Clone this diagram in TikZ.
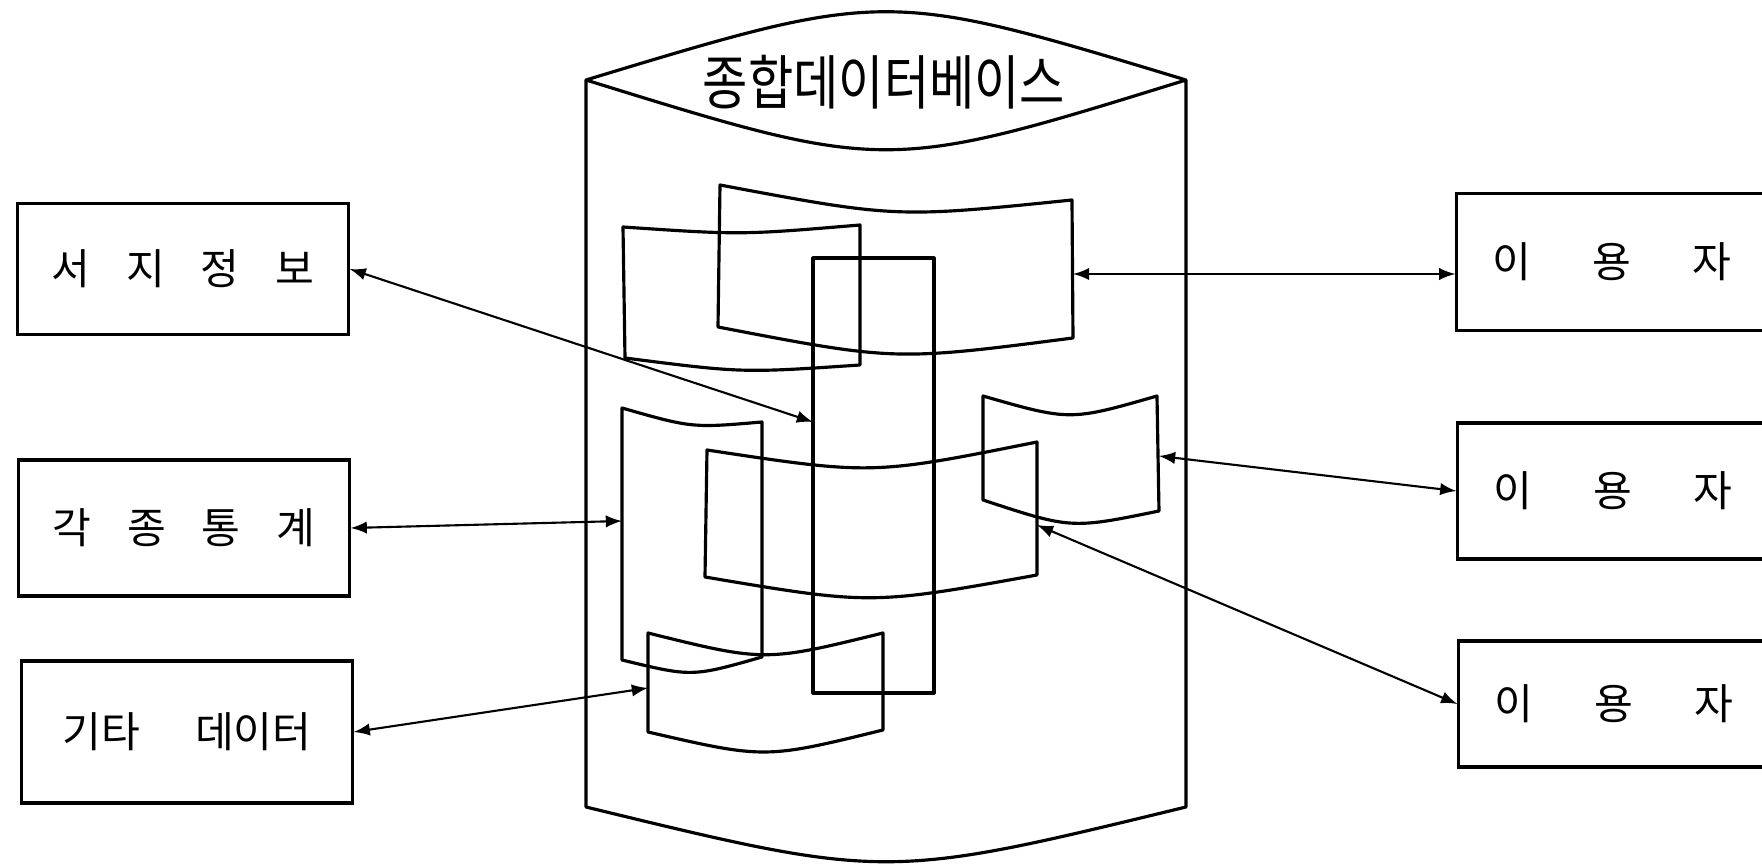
\documentclass[tikz,border=0pt]{standalone}
\usepackage{fontspec}
\newfontfamily\kor{Noto Sans CJK KR}
\usetikzlibrary{arrows}

\newcommand\boxfont{\kor\fontsize{12}{14}\selectfont}

\begin{document}
\begin{tikzpicture}[x=0.01cm, y=-0.01cm,
    box/.style={draw, line width=0.9pt, inner sep=0pt, minimum width=3.3cm,
                minimum height=1.35cm, font={\boxfont\spaceskip=#1\relax}},
    box/.default=0.85em,
    ubox/.style={box=1.45em, minimum width=3.1cm},
    panel/.style={line width=0.9pt, line join=round},
    link/.style={<->, >=latex, line width=0.6pt}
]
    \useasboundingbox (0,0) rectangle (1762,864);

    % database cylinder
    \draw[panel] (586,80) .. controls (886,-11) .. (1186,80)
        .. controls (886,173) .. (586,80) -- (586,807)
        .. controls (886,880) .. (1186,807) -- (1186,80);
    \node[font=\kor\fontsize{14}{16}\selectfont] (db) at (884,82) {\scalebox{1}[1.2]{종합데이터베이스}};

    % curved panels inside
    \draw[panel] (720,185) .. controls (896,218) .. (1072,200) -- (1073,338)
        .. controls (895,361) .. (718,327) -- cycle;
    \draw[panel] (623,227) .. controls (741,235) .. (860,225) -- (860,365)
        .. controls (742,373) .. (625,358) -- cycle;
    \draw[panel] (813,258) rectangle (934,693);
    \draw[panel] (622,408) .. controls (692,428) .. (762,422) -- (762,657)
        .. controls (692,677) .. (622,660) -- cycle;
    \draw[panel] (707,450) .. controls (872,475) .. (1037,442) -- (1037,575)
        .. controls (871,605) .. (705,577) -- cycle;
    \draw[panel] (983,396) .. controls (1070,421) .. (1157,396) -- (1159,511)
        .. controls (1071,529) .. (983,500) -- cycle;
    \draw[panel] (648,633) .. controls (765,662) .. (883,633) -- (883,730)
        .. controls (765,759) .. (648,732) -- cycle;

    \coordinate (aR) at (1073,274);
    \coordinate (cL) at (813,422);
    \coordinate (dL) at (622,521);
    \coordinate (gL) at (648,688);
    \coordinate (fR) at (1159,456);
    \coordinate (eR) at (1037,525);

    % sources
    \node[box, minimum height=1.31cm] (bib) at (183,269) {서 지 정 보};
    \node[box, minimum height=1.36cm] (stat) at (184,528) {각 종 통 계};
    \node[box=1.3em, minimum height=1.42cm] (etc) at (187,732) {기타 데이터};

    % users
    \node[ubox, minimum height=1.37cm] (user1) at (1612,262) {이 용 자};
    \node[ubox, minimum height=1.36cm] (user2) at (1613,491) {이 용 자};
    \node[ubox, minimum height=1.26cm] (user3) at (1614,704) {이 용 자};

    % links
    \draw[link] (bib.east) -- (cL);
    \draw[link] (stat.east) -- (dL);
    \draw[link] (etc.east) -- (gL);
    \draw[link] (aR) -- (aR -| user1.west);
    \draw[link] (fR) -- (user2.west);
    \draw[link] (eR) -- (user3.west);
\end{tikzpicture}
\end{document}
